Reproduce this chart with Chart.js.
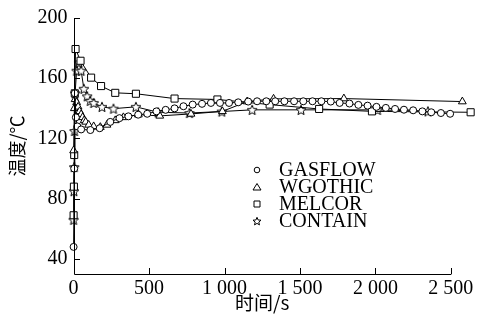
<!DOCTYPE html>
<html>
<head>
<meta charset="utf-8">
<script src="https://cdn.jsdelivr.net/npm/chart.js@4.4.1/dist/chart.umd.min.js"></script>
<style>
  html, body { margin: 0; padding: 0; background: #fff; }
  #wrap { width: 479px; height: 323px; }
</style>
</head>
<body>
<div id="wrap"><canvas id="chart"></canvas></div>
<script>
// axis ticks
const xTicks = [0, 500, 1000, 1500, 2000, 2500];
const yTicks = [40, 80, 120, 160, 200];

const seriesNames = ['GASFLOW', 'WGOTHIC', 'MELCOR', 'CONTAIN'];

// GASFLOW (circles)
const gasflowT = [0, 4, 8, 15, 25, 50, 111, 173, 243, 304, 363, 428, 488, 549, 610, 669, 728, 789, 851, 910, 970, 1030, 1091, 1157, 1216, 1277, 1336, 1397, 1461, 1522, 1583, 1642, 1704, 1763, 1828, 1887, 1948, 2007, 2069, 2130, 2189, 2250, 2311, 2370, 2434, 2495];
const gasflowV = [48, 100, 150, 134, 128, 126, 125.6, 126.8, 131, 133.5, 134.7, 135.8, 136.4, 138, 139, 140, 141.4, 142.5, 143, 143.6, 143.6, 143.6, 144, 144.5, 144.7, 144.7, 144.7, 144.7, 144.7, 144.7, 144.7, 144.7, 144.5, 143.6, 143.2, 142.3, 141.8, 141, 140.3, 139.6, 139.1, 138.7, 138, 137.4, 136.9, 136.4];

// WGOTHIC (triangles)
const wgothicT = [0, 5, 10, 20, 30, 40, 50, 60, 70, 80, 100, 133, 177, 221, 276, 330, 429, 571, 778, 986, 1150, 1325, 1791, 2576];
const wgothicV = [112, 140, 146, 144, 141, 138, 136, 134, 132, 131, 129, 128, 127.5, 129, 132, 134, 135.8, 135, 136.3, 138, 144.5, 146.3, 146.5, 144.5];

// MELCOR (squares)
const melcorT = [0, 2, 4, 8, 13, 46, 116, 182, 276, 413, 669, 953, 1299, 1627, 1977, 2631];
const melcorV = [69, 88, 109, 150, 179.4, 171.6, 160.4, 154.8, 150.3, 149.7, 146.5, 145.9, 142.5, 139.6, 138, 137.4];

// CONTAIN (stars)
const containT = [0, 2, 4, 6, 10, 20, 35, 50, 68, 90, 110, 133, 188, 264, 413, 560, 768, 982, 1183, 1507, 2014, 2348];
const containV = [66, 85, 101, 125, 150, 165, 170.5, 165, 153, 148, 145, 143.6, 141, 139.8, 141, 137.4, 136.9, 137.9, 139, 139, 139, 138];

const serif = "'Liberation Serif', 'Times New Roman', serif";
const cjk = "'Noto Sans CJK SC', sans-serif";

function toPoints(ts, vs) {
  return ts.map((t, i) => ({ x: t, y: vs[i] }));
}

function makeStar(size) {
  const c = document.createElement('canvas');
  c.width = size; c.height = size;
  const g = c.getContext('2d');
  const cx = size / 2, cy = size / 2 + 0.5, ro = size / 2 - 0.8, ri = ro * 0.45;
  g.beginPath();
  for (let i = 0; i < 10; i++) {
    const r = i % 2 === 0 ? ro : ri;
    const a = -Math.PI / 2 + i * Math.PI / 5;
    const px = cx + r * Math.cos(a), py = cy + r * Math.sin(a);
    if (i === 0) g.moveTo(px, py); else g.lineTo(px, py);
  }
  g.closePath();
  g.fillStyle = '#fff';
  g.fill();
  g.strokeStyle = '#000';
  g.lineWidth = 1;
  g.stroke();
  return c;
}

const starBig = makeStar(12);
const starSmall = makeStar(10);

function ds(label, ts, vs, style, radius) {
  return {
    label: label,
    data: toPoints(ts, vs),
    borderColor: '#000',
    borderWidth: 1,
    backgroundColor: '#fff',
    pointBackgroundColor: '#fff',
    pointBorderColor: '#000',
    pointBorderWidth: 1,
    pointStyle: style,
    pointRadius: radius,
    tension: 0,
    clip: false
  };
}

// axis lines, inside ticks and the x title
const axesPlugin = {
  id: 'axesPlugin',
  afterDatasetsDraw(chart) {
    const ctx = chart.ctx;
    const xs = chart.scales.x, ys = chart.scales.y;
    const bottom = Math.round(ys.getPixelForValue(30));
    const left = Math.round(xs.getPixelForValue(0));
    ctx.save();
    ctx.strokeStyle = '#000';
    ctx.lineWidth = 1;
    ctx.beginPath();
    ctx.moveTo(left + 0.5, ys.getPixelForValue(200));
    ctx.lineTo(left + 0.5, bottom + 0.5);
    ctx.lineTo(xs.getPixelForValue(2500) + 0.5, bottom + 0.5);
    xTicks.forEach(t => {
      const px = Math.round(xs.getPixelForValue(t)) + 0.5;
      ctx.moveTo(px, bottom);
      ctx.lineTo(px, bottom - 6);
    });
    yTicks.forEach(v => {
      const py = Math.round(ys.getPixelForValue(v)) + 0.5;
      ctx.moveTo(left, py);
      ctx.lineTo(left + 6, py);
    });
    ctx.stroke();

    ctx.fillStyle = '#000';
    ctx.font = '19px ' + cjk;
    ctx.textAlign = 'center';
    ctx.textBaseline = 'middle';
    ctx.fillText('时间/s', xs.getPixelForValue(1250), chart.height - 20);
    ctx.restore();
  }
};

// legend drawn inside the plot
const legendPlugin = {
  id: 'legendPlugin',
  afterDraw(chart) {
    const ctx = chart.ctx;
    const x0 = 257, y0 = 170, step = 17;
    ctx.save();
    ctx.font = '20px ' + serif;
    ctx.fillStyle = '#000';
    ctx.textBaseline = 'middle';
    ctx.strokeStyle = '#000';
    ctx.lineWidth = 1;
    seriesNames.forEach((name, i) => {
      const y = y0 + i * step;
      ctx.beginPath();
      if (i === 0) {
        ctx.arc(x0, y, 2.8, 0, Math.PI * 2);
        ctx.stroke();
      } else if (i === 1) {
        ctx.moveTo(x0, y - 3.5);
        ctx.lineTo(x0 + 4, y + 3);
        ctx.lineTo(x0 - 4, y + 3);
        ctx.closePath();
        ctx.stroke();
      } else if (i === 2) {
        ctx.rect(x0 - 3, y - 3, 6, 6);
        ctx.stroke();
      } else {
        ctx.drawImage(starSmall, x0 - 5, y - 5);
      }
      ctx.fillText(name, x0 + 22, y + 1);
    });
    ctx.restore();
  }
};

new Chart(document.getElementById('chart'), {
  type: 'line',
  data: {
    datasets: [
      ds(seriesNames[0], gasflowT, gasflowV, 'circle', 3.5),
      ds(seriesNames[1], wgothicT, wgothicV, 'triangle', 4.5),
      ds(seriesNames[2], melcorT, melcorV, 'rect', 5),
      ds(seriesNames[3], containT, containV, starBig, 6)
    ]
  },
  options: {
    responsive: true,
    maintainAspectRatio: false,
    animation: false,
    layout: { padding: { top: 6, right: 3, left: 6, bottom: 19 } },
    plugins: {
      legend: { display: false },
      tooltip: { enabled: false }
    },
    scales: {
      x: {
        type: 'linear',
        min: 0,
        max: 2640,
        afterBuildTicks: s => { s.ticks = xTicks.map(v => ({ value: v })); },
        grid: { display: false, drawTicks: false },
        border: { display: false },
        ticks: {
          color: '#000',
          padding: 3,
          maxRotation: 0,
          font: { family: serif, size: 20 },
          callback: v => String(v).replace(/\B(?=(\d{3})+(?!\d))/g, ' ')
        }
      },
      y: {
        type: 'linear',
        min: 30,
        max: 200,
        afterBuildTicks: s => { s.ticks = yTicks.map(v => ({ value: v })); },
        grid: { display: false, drawTicks: false },
        border: { display: false },
        ticks: {
          color: '#000',
          padding: 6,
          font: { family: serif, size: 20 }
        },
        title: {
          display: true,
          text: '温度/℃',
          color: '#000',
          padding: { top: 0, bottom: 4 },
          font: { family: cjk, size: 18 }
        }
      }
    }
  },
  plugins: [axesPlugin, legendPlugin]
});
</script>
</body>
</html>
